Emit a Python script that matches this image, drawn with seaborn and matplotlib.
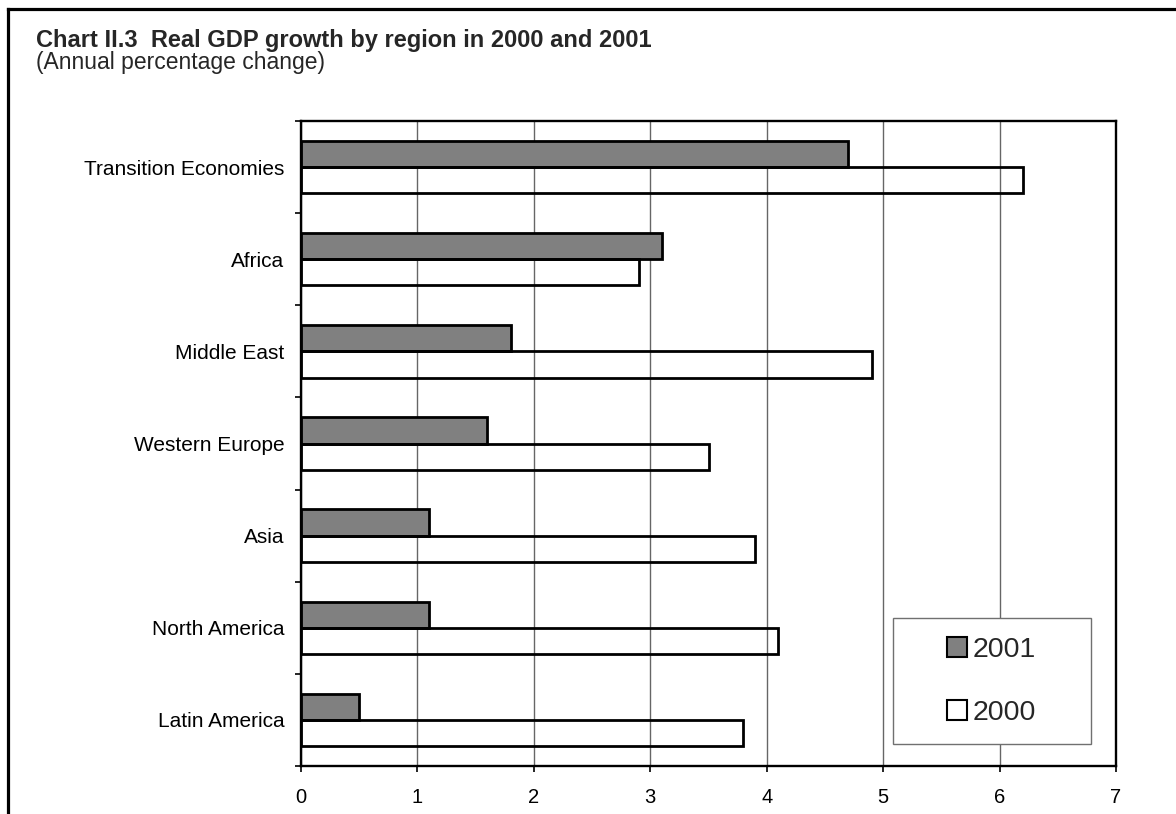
import matplotlib
matplotlib.use('Agg')
import matplotlib.pyplot as plt
import seaborn as sns
import pandas as pd
from matplotlib.lines import Line2D
from matplotlib.patches import Rectangle, Patch

regions = ["Transition Economies", "Africa", "Middle East", "Western Europe",
           "Asia", "North America", "Latin America"]
growth_2001 = [4.7, 3.1, 1.8, 1.6, 1.1, 1.1, 0.5]
growth_2000 = [6.2, 2.9, 4.9, 3.5, 3.9, 4.1, 3.8]
years = ["2001", "2000"]
x_ticks = [0, 1, 2, 3, 4, 5, 6, 7]
title = "Chart II.3  Real GDP growth by region in 2000 and 2001"
subtitle = "(Annual percentage change)"

df = pd.DataFrame({
    "Region": regions * 2,
    "Year": [years[0]] * len(regions) + [years[1]] * len(regions),
    "Growth": growth_2001 + growth_2000,
})

sns.set_theme(style="white")
plt.rcParams['font.family'] = ['Liberation Sans', 'DejaVu Sans']

W, H = 1176, 814
fig = plt.figure(figsize=(W / 100, H / 100), dpi=100)
ax = fig.add_axes([301 / W, 1 - 766 / H, (1116 - 301) / W, (766 - 121) / H])

colors = {"2001": "#808080", "2000": "#ffffff"}
sns.barplot(data=df, y="Region", x="Growth", hue="Year", order=regions,
            hue_order=years, palette=colors, orient='h', width=0.57,
            dodge=True, edgecolor='black', linewidth=2.0, saturation=1,
            errorbar=None, legend=False, ax=ax)

# white bars are see-through so gridlines show
for p in ax.patches:
    fc = p.get_facecolor()
    if fc[0] > 0.95 and fc[1] > 0.95 and fc[2] > 0.95:
        p.set_facecolor((1, 1, 1, 0))

ax.set_xlim(0, 7)
ax.set_ylim(len(regions) - 0.5, -0.5)
ax.set_xticks(x_ticks)
ax.set_xticklabels([str(t) for t in x_ticks])
ax.set_axisbelow(True)
ax.xaxis.grid(True, color='#666666', lw=1.0)
ax.yaxis.grid(False)
ax.set_xlabel('')
ax.set_ylabel('')

ax.set_yticks([i - 0.5 for i in range(len(regions) + 1)], minor=True)
ax.tick_params(axis='y', which='major', length=0, pad=12, labelsize=15, colors='black')
ax.tick_params(axis='y', which='minor', length=4, width=1.2, direction='out', color='black', left=True)
ax.tick_params(axis='x', which='major', length=4, width=1.2, direction='out', bottom=True,
               pad=12, labelsize=14.5, colors='black')

for s in ax.spines.values():
    s.set_color('black')
    s.set_linewidth(1.7)
    s.set_visible(True)

# legend box
ax.add_patch(Rectangle((0.726, 0.034), 0.243, 0.195, transform=ax.transAxes,
                       facecolor='white', edgecolor='#707070', lw=1.0, zorder=4))
handles = [Patch(facecolor=colors[y], edgecolor='black', lw=1.5) for y in years]
leg = ax.legend(handles, years, loc='center', bbox_to_anchor=(0.8475, 0.1315),
                frameon=False, fontsize=20.5, handlelength=0.7, handleheight=0.7,
                handletextpad=0.2, labelspacing=1.3)
leg.set_zorder(6)

fig.text(36 / W, 1 - 47 / H, title, fontsize=17, fontweight='bold', va='baseline', ha='left')
fig.text(36 / W, 1 - 69 / H, subtitle, fontsize=16.5, va='baseline', ha='left')

# outer frame (top and left edges)
fig.add_artist(Line2D([7.5 / W, 1], [1 - 9 / H, 1 - 9 / H], transform=fig.transFigure,
                      color='black', lw=2.3, solid_capstyle='projecting'))
fig.add_artist(Line2D([7.5 / W, 7.5 / W], [0, 1 - 9 / H], transform=fig.transFigure,
                      color='black', lw=2.3, solid_capstyle='projecting'))

fig.savefig('out.png', dpi=100, facecolor='white')
